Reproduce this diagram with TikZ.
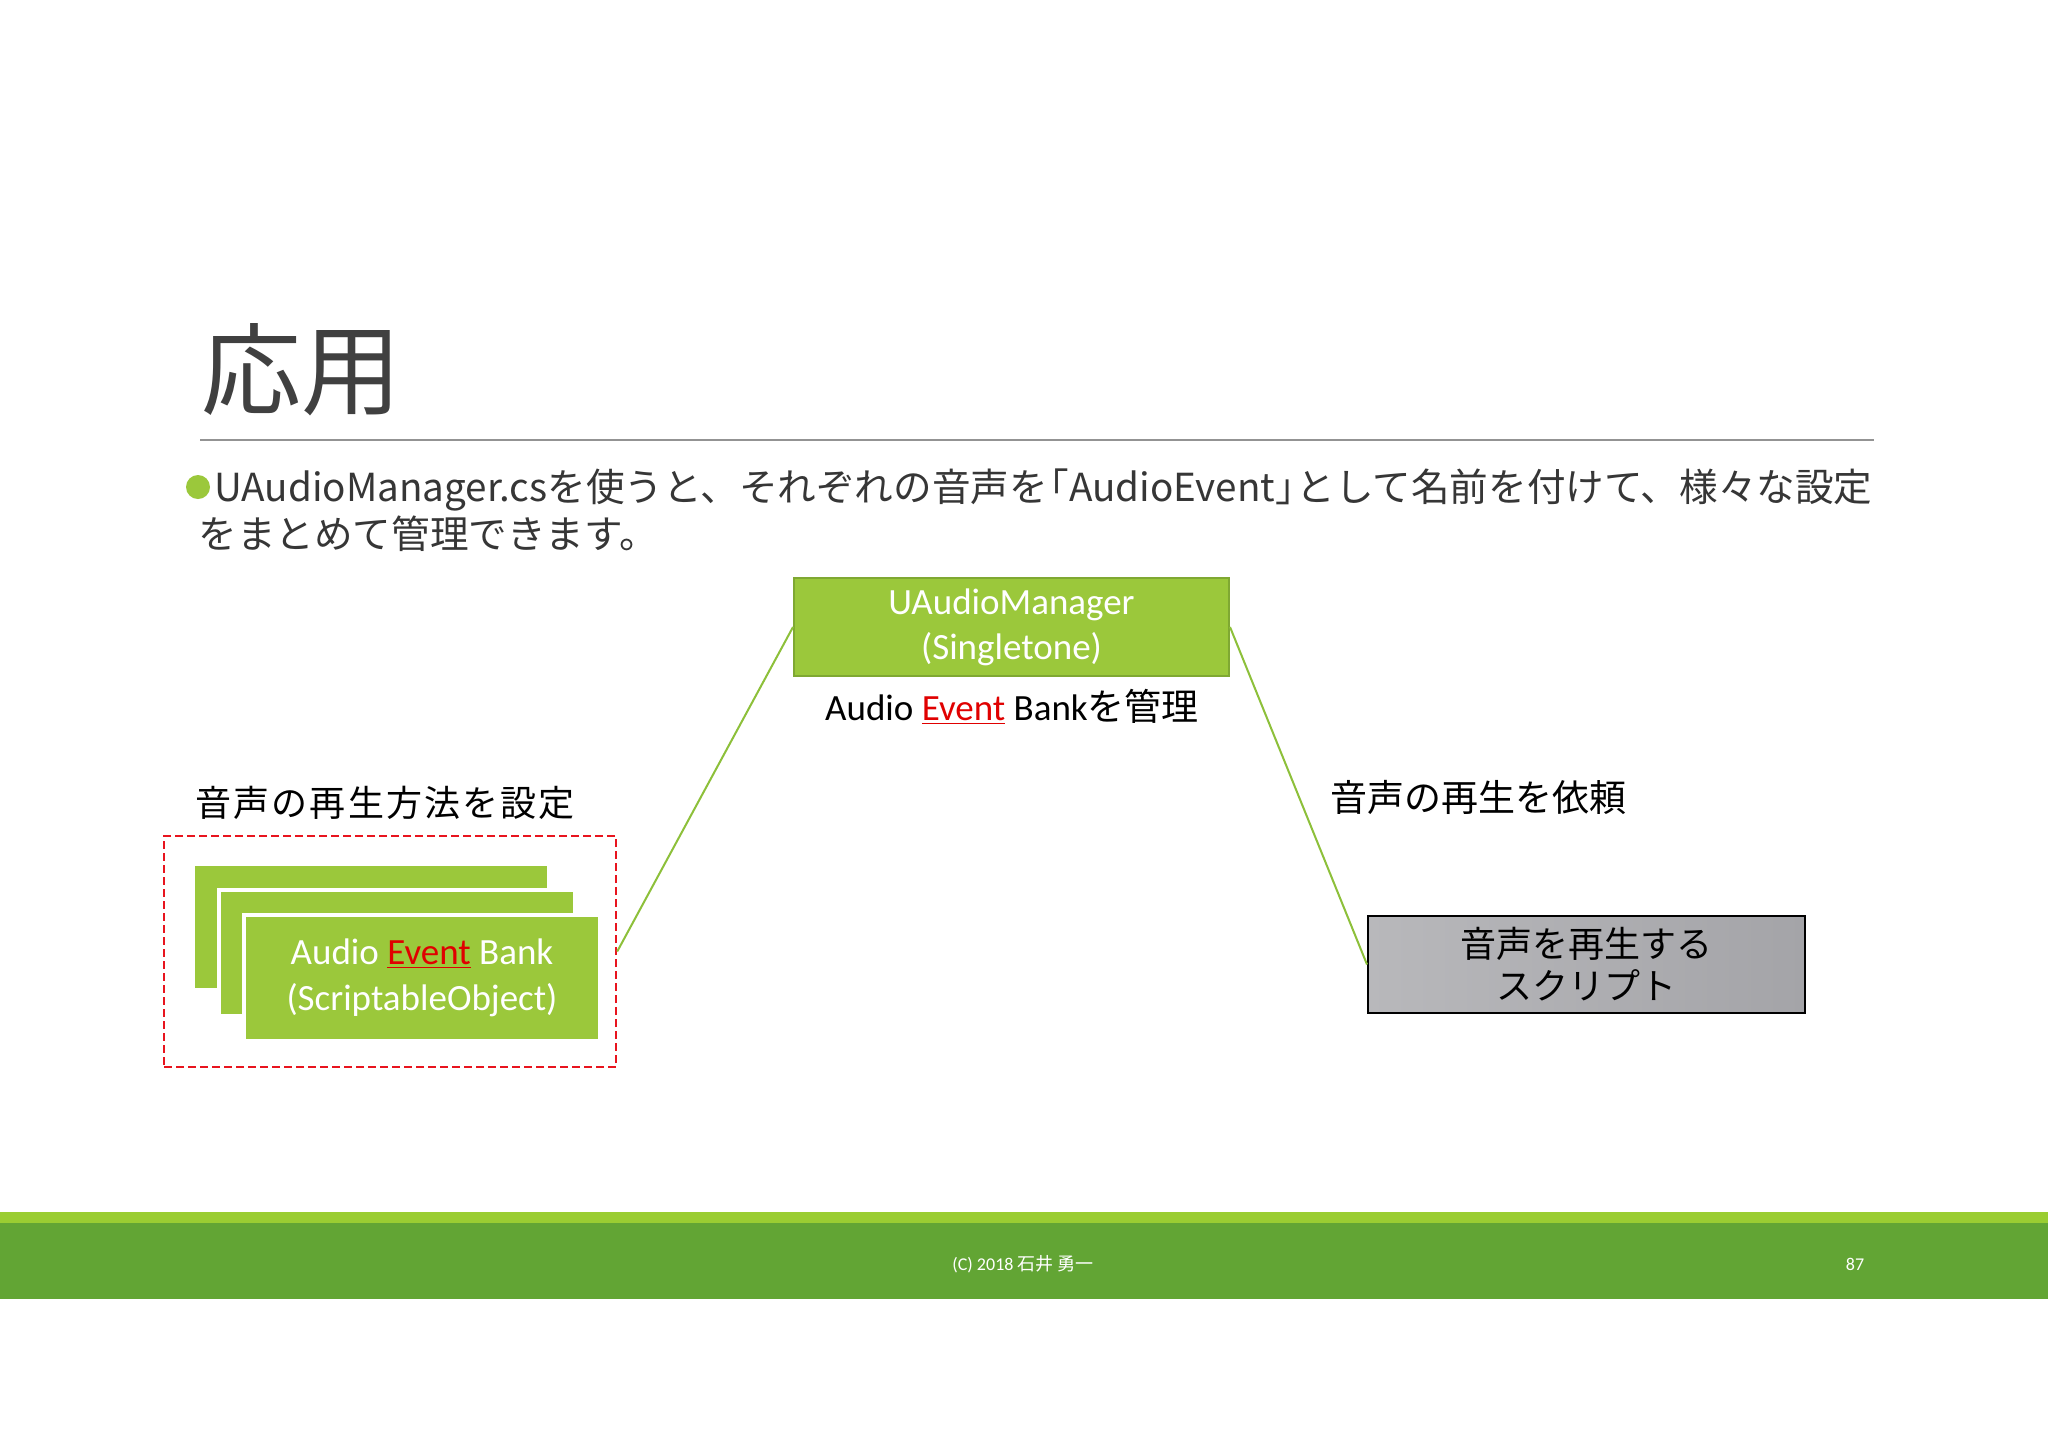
\documentclass[tikz,border=0pt]{standalone}
\usepackage{fontspec}
\setmainfont{Carlito}
\newfontfamily\jp{Noto Sans CJK JP}
\newfontfamily\jpw{Noto Sans CJK JP}[LetterSpace=6]
\newcommand\J[1]{{\jp #1}}
\definecolor{boxgreen}{HTML}{9BC83B}
\definecolor{boxedge}{HTML}{7FA832}
\definecolor{linegreen}{HTML}{8DC03A}
\definecolor{footlight}{HTML}{9ACD32}
\definecolor{footdark}{HTML}{62A534}
\definecolor{redmark}{HTML}{E8141E}
\definecolor{evred}{HTML}{E00000}
\definecolor{textgray}{HTML}{363636}
\definecolor{titlegray}{HTML}{404040}
\definecolor{grayL}{HTML}{B8B8BB}
\definecolor{grayR}{HTML}{A4A4A8}
\newcommand\EV{\textcolor{evred}{\underline{Event}}}
\tikzset{
  greenbox/.style={rectangle, fill=boxgreen, draw=boxedge, line width=1pt, text=white, align=center, inner sep=0pt,
    minimum width=217.5pt, minimum height=49pt, font=\fontsize{18.5pt}{22.5pt}\selectfont},
  stackbox/.style={rectangle, fill=boxgreen, draw=white, line width=2pt, text=white, align=center, inner sep=0pt,
    minimum width=178pt, minimum height=63pt, font=\fontsize{18.5pt}{23pt}\selectfont},
  graybox/.style={rectangle, left color=grayL, right color=grayR, draw=black, line width=1pt, align=center, inner sep=0pt,
    minimum width=218.5pt, minimum height=48.5pt, font=\fontsize{18pt}{21pt}\selectfont\jp},
  label/.style={inner sep=0pt, text=black, font=\fontsize{18.5pt}{22pt}\selectfont},
  conn/.style={draw=linegreen, line width=1pt},
  foottext/.style={inner sep=0pt, text=white, font=\fontsize{9pt}{10pt}\selectfont},
  bodytext/.style={inner sep=0pt, anchor=base west, text=textgray, font=\fontsize{19.3pt}{22pt}\selectfont\jp}
}
\begin{document}
\begin{tikzpicture}[x=0.5pt, y=-0.5pt]
\useasboundingbox (0,0) rectangle (2048,1448);
\fill[white] (0,0) rectangle (2048,1448);

% title
\node[inner sep=0pt, anchor=base west, text=titlegray, font=\fontsize{50pt}{55pt}\selectfont\jp] (title) at (201,407) {応用};
\coordinate (ruleL) at (200,440);
\coordinate (ruleR) at (1874,440);
\draw[color=gray!85, line width=1pt] (ruleL) -- (ruleR);

% bullet text
\fill[boxgreen] (198,487) circle (12);
\node[bodytext] (line1) at (214,501)
  {UAudioManager.csを使うと、それぞれの音声を\kern-0.45em「AudioEvent」\kern-0.45emとして名前を付けて、様々な設定};
\node[bodytext] (line2) at (198,548)
  {をまとめて管理できます。};

% manager
\node[greenbox] (mgr) at (1011.5,627) {UAudioManager\\(Singletone)};
\node[label] (mgrlab) at (1012,707) {Audio \EV{} Bank\J{を管理}};

% left group
\node[label, font=\fontsize{18pt}{22pt}\selectfont\jpw, anchor=west] (leftlab) at (195,803) {音声の再生方法を設定};
\node[stackbox] (bank3) at (370.5,927) {};
\node[stackbox] (bank2) at (396.5,952.5) {};
\node[stackbox] (bank1) at (422,978) {Audio \EV{} Bank\\(ScriptableObject)};
\node[rectangle, draw=redmark, dashed, dash pattern=on 4pt off 2pt, line width=1.2pt, minimum width=226pt, minimum height=115.5pt, inner sep=0pt] (group) at (390,951.5) {};

% right
\node[label, anchor=west, font=\fontsize{18.5pt}{22pt}\selectfont\jp] (rightlab) at (1330,797) {音声の再生を依頼};
\node[graybox] (script) at (1586.5,964.5) {音声を再生する\\スクリプト};

% connectors
\draw[conn] (group.east) -- (mgr.west);
\draw[conn] (mgr.east) -- (script.west);

% footer
\fill[footlight] (0,1212) rectangle (2048,1223);
\fill[footdark] (0,1223) rectangle (2048,1299);
\node[foottext] (copy) at (1023,1264) {(C) 2018 \J{石井 勇一}};
\node[foottext] (page) at (1855,1264) {87};
\end{tikzpicture}
\end{document}
